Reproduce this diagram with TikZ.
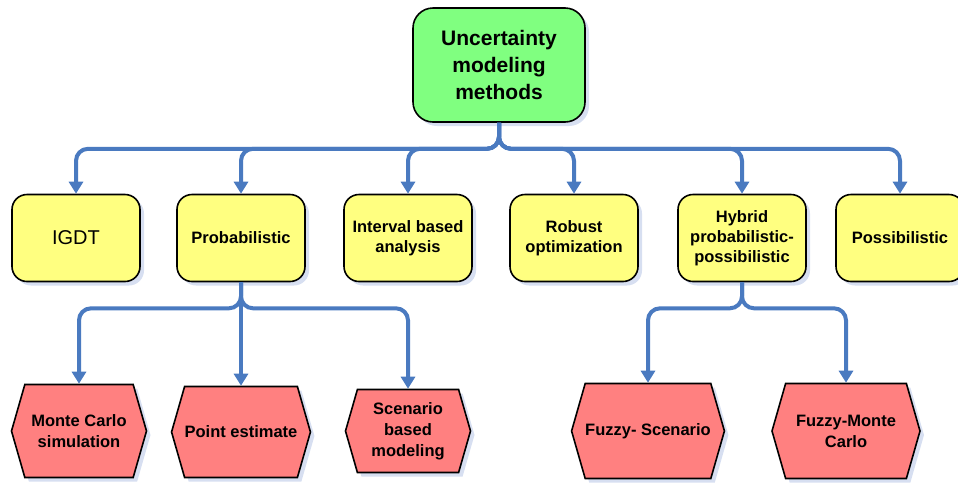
\documentclass[tikz,border=0pt]{standalone}
\usepackage{fontspec}
\setmainfont{Liberation Sans}
\usetikzlibrary{arrows.meta,shapes.symbols,shadows}
\definecolor{rootgreen}{RGB}{128,255,128}
\definecolor{boxyellow}{RGB}{255,255,128}
\definecolor{hexred}{RGB}{255,128,128}
\definecolor{linkblue}{RGB}{74,122,192}
\definecolor{shadowblue}{RGB}{205,215,238}

\begin{document}
\begin{tikzpicture}[x=1pt,y=-1pt,
  shade box/.style={drop shadow={shadow xshift=4pt,shadow yshift=-4pt,fill=shadowblue,opacity=0.8}},
  root/.style={draw, line width=1.6pt, rounded corners=20pt, fill=rootgreen, minimum width=172pt, minimum height=114pt, align=center, font=\fontsize{21}{27}\selectfont\bfseries, shade box},
  method/.style={draw, line width=1.6pt, rounded corners=15pt, fill=boxyellow, minimum width=128pt, minimum height=87pt, align=center, font=\fontsize{16.5}{20}\selectfont\bfseries, shade box},
  tech/.style={draw, line width=1.6pt, signal, signal to=west and east, signal pointer angle=148, fill=hexred, inner sep=0pt, align=center, font=\fontsize{16.5}{21}\selectfont\bfseries, shade box}]
  \tikzset{edge/.style = {linkblue, line width=4pt, rounded corners=12pt, -{Triangle[width=14pt,length=12pt]}}}

  \useasboundingbox (0,0) rectangle (958,483);

  \node[root] (root) at (499,65) {Uncertainty\\modeling\\methods};

  \node[method, font=\fontsize{20}{24}\selectfont] (igdt) at (76,238) {IGDT};
  \node[method] (prob) at (241,238) {Probabilistic};
  \node[method] (interval) at (408,238) {Interval based\\analysis};
  \node[method] (robust) at (574,238) {Robust\\optimization};
  \node[method] (hybrid) at (742,238) {Hybrid\\probabilistic-\\possibilistic};
  \node[method] (poss) at (900,238) {Possibilistic};

  \node[tech, minimum width=135pt, minimum height=93pt] (monte) at (79,431) {Monte Carlo\\simulation};
  \node[tech, minimum width=135pt, minimum height=91pt] (point) at (241,432) {Point estimate};
  \node[tech, minimum width=125pt, minimum height=83pt] (scenario) at (408,431) {Scenario\\based\\modeling};
  \node[tech, minimum width=147pt, minimum height=95pt] (fscen) at (648,431) {Fuzzy- Scenario};
  \node[tech, minimum width=148pt, minimum height=95pt] (fmonte) at (846,431) {Fuzzy-Monte\\Carlo};

  \draw [edge] (root.south) -- ++(0,26) -| (igdt.north);
  \draw [edge] (root.south) -- ++(0,26) -| (prob.north);
  \draw [edge] (root.south) -- ++(0,26) -| (interval.north);
  \draw [edge] (root.south) -- ++(0,26) -| (robust.north);
  \draw [edge] (root.south) -- ++(0,26) -| (hybrid.north);
  \draw [edge] (root.south) -- ++(0,26) -| (poss.north);

  \draw [edge] (prob.south) -- ++(0,26) -| (monte.north);
  \draw [edge] (prob.south) -- ++(0,26) -| (point.north);
  \draw [edge] (prob.south) -- ++(0,26) -| (scenario.north);

  \draw [edge] (hybrid.south) -- ++(0,26) -| (fscen.north);
  \draw [edge] (hybrid.south) -- ++(0,26) -| (fmonte.north);
\end{tikzpicture}
\end{document}
